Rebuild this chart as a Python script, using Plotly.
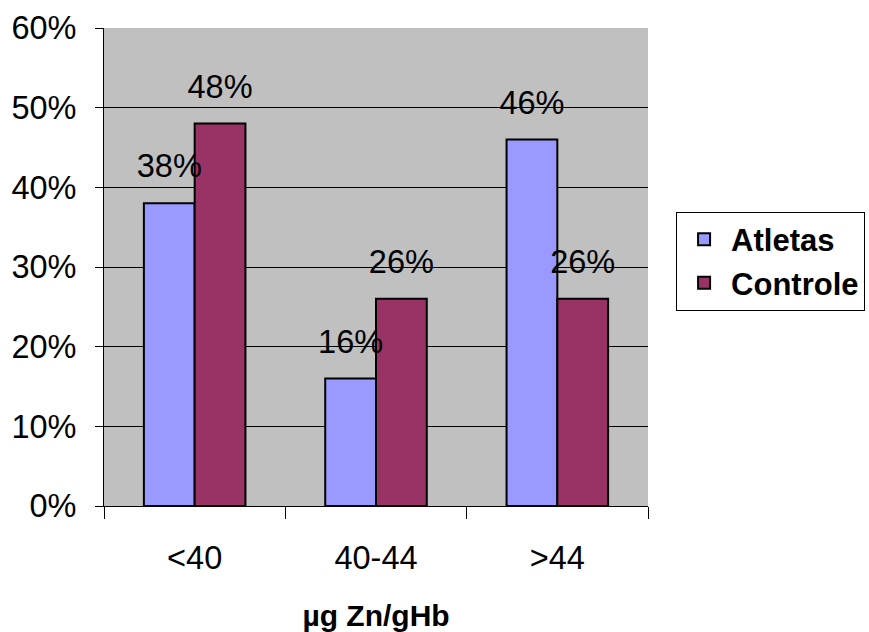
import plotly.graph_objects as go

# Zinc levels (µg Zn/gHb) by group
categories = ["<40", "40-44", ">44"]
atletas = [0.38, 0.16, 0.46]
controle = [0.48, 0.26, 0.26]
y_ticks = [0, 0.1, 0.2, 0.3, 0.4, 0.5, 0.6]

FONT = "Liberation Sans, Arial, sans-serif"
FS = 32.5
C_ATL = "#9999FF"
C_CON = "#993366"
GAP = 0.44

fig = go.Figure()
for name, vals, col in [("Atletas", atletas, C_ATL), ("Controle", controle, C_CON)]:
    fig.add_trace(go.Bar(
        x=categories, y=vals, name=name, offsetgroup=name,
        marker=dict(color=col, line=dict(color="black", width=2)),
    ))

# value labels, drawn above every bar
for name, vals in [("Atletas", atletas), ("Controle", controle)]:
    fig.add_trace(go.Scatter(
        x=categories, y=vals, offsetgroup=name, mode="markers+text",
        text=[f"{v:.0%}" for v in vals], textposition="top center",
        marker=dict(size=27, opacity=0), showlegend=False, hoverinfo="skip",
        textfont=dict(family=FONT, size=FS, color="black"), cliponaxis=False,
    ))

fig.update_layout(
    width=869, height=632,
    margin=dict(l=104, r=221, t=28, b=126, autoexpand=False),
    paper_bgcolor="white", plot_bgcolor="#C0C0C0",
    barmode="group", bargap=GAP, bargroupgap=0,
    scattermode="group", scattergap=GAP,
    font=dict(family=FONT, size=FS, color="black"),
    showlegend=True,
    legend=dict(
        xref="container", yref="container",
        x=0.778, y=0.665, xanchor="left", yanchor="top",
        bgcolor="white", bordercolor="black", borderwidth=1,
        font=dict(family=FONT, size=31, color="black", weight="bold"),
        tracegroupgap=11, itemwidth=44, entrywidth=215,
    ),
)
fig.update_xaxes(
    type="category", tickson="boundaries", ticks="outside", ticklen=12,
    tickcolor="black", showline=True, linecolor="black", linewidth=1,
    showgrid=False, ticklabelstandoff=23, automargin=False,
    title=dict(text="<b>µg Zn/gHb</b>", font=dict(family=FONT, size=30), standoff=30),
)
fig.update_yaxes(
    range=[0, 0.6], tickvals=y_ticks, tickformat=".0%",
    ticks="outside", ticklen=8, tickcolor="black",
    showline=True, linecolor="black", linewidth=1,
    showgrid=True, gridcolor="black", gridwidth=1, zeroline=False,
    ticklabelstandoff=12, automargin=False,
)

fig.write_html("out.html")
